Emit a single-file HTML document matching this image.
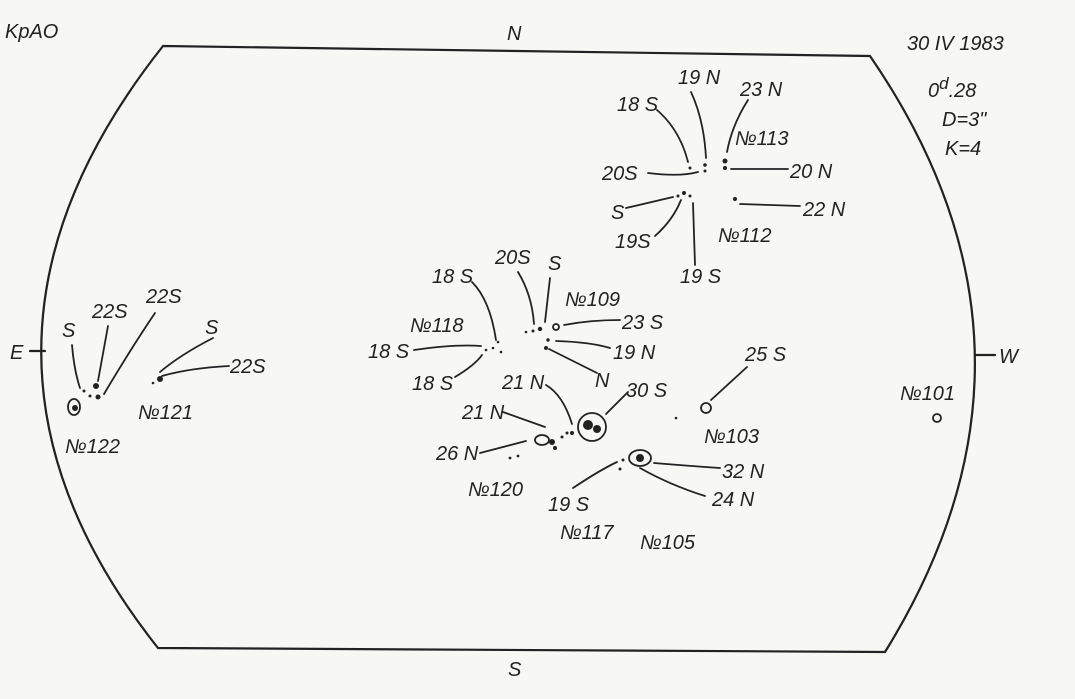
<!DOCTYPE html>
<html><head><meta charset="utf-8"><style>
html,body{margin:0;padding:0;background:#f7f7f4;}
svg{display:block}
text{font-family:"Liberation Sans",sans-serif;font-style:italic;font-size:20px;fill:#222;}
</style></head><body>
<svg width="1075" height="699" viewBox="0 0 1075 699" xmlns="http://www.w3.org/2000/svg">
<rect width="1075" height="699" fill="#f7f7f4"/>
<g fill="none" stroke="#222" stroke-width="2.2" stroke-linecap="round">
<path d="M163,46 L870,56 Q1072,350 885,652 L158,648 Q-78,350 163,46 Z"/>
<path d="M30,351 L45,351"/>
<path d="M975,355 L995,355"/>
</g>
<g fill="none" stroke="#222" stroke-width="1.8" stroke-linecap="round">
<path d="M657,110 Q680,130 688,162"/>
<path d="M691,92 Q704,120 706,158"/>
<path d="M748,100 Q732,125 727,152"/>
<path d="M648,173 Q680,177 698,172"/>
<path d="M731,169 L788,169"/>
<path d="M626,208 L673,197"/>
<path d="M740,204 L800,206"/>
<path d="M655,236 Q673,220 681,200"/>
<path d="M695,265 L693,203"/>
<path d="M472,282 Q490,300 496,340"/>
<path d="M518,272 Q532,295 534,324"/>
<path d="M550,278 L545,322"/>
<path d="M564,325 Q590,320 620,320"/>
<path d="M414,350 Q455,344 481,346"/>
<path d="M455,377 Q475,365 482,355"/>
<path d="M556,341 Q590,342 610,348"/>
<path d="M549,349 Q575,362 597,373"/>
<path d="M546,385 Q563,395 572,424"/>
<path d="M503,412 L545,427"/>
<path d="M480,453 L526,441"/>
<path d="M628,392 L606,414"/>
<path d="M747,367 L711,400"/>
<path d="M654,463 Q690,466 720,468"/>
<path d="M640,468 Q670,485 705,496"/>
<path d="M573,488 Q600,470 617,462"/>
<path d="M72,345 Q74,370 80,388"/>
<path d="M108,326 L98,381"/>
<path d="M155,313 Q130,350 104,394"/>
<path d="M213,338 Q180,355 160,372"/>
<path d="M229,366 Q190,368 162,376"/>
<circle cx="592" cy="427" r="14"/>
<ellipse cx="640" cy="458" rx="11" ry="8"/>
<circle cx="706" cy="408" r="5"/>
<circle cx="937" cy="418" r="4"/>
<ellipse cx="74" cy="407" rx="6" ry="8"/>
<ellipse cx="542" cy="440" rx="7" ry="5"/>
<circle cx="556" cy="327" r="3"/>
</g>
<g fill="#222">
<circle cx="690" cy="168" r="1.5"/><circle cx="705" cy="165" r="1.8"/><circle cx="705" cy="171" r="1.5"/>
<circle cx="725" cy="161" r="2.5"/><circle cx="725" cy="168" r="2"/>
<circle cx="678" cy="196" r="1.5"/><circle cx="684" cy="193" r="2"/><circle cx="690" cy="196" r="1.5"/>
<circle cx="735" cy="199" r="2"/>
<circle cx="526" cy="332" r="1.3"/><circle cx="533" cy="331" r="1.5"/><circle cx="540" cy="329" r="2.2"/>
<circle cx="548" cy="340" r="1.7"/><circle cx="546" cy="348" r="2"/>
<circle cx="486" cy="350" r="1.3"/><circle cx="493" cy="348" r="1.3"/><circle cx="498" cy="342" r="1.3"/><circle cx="501" cy="352" r="1.3"/>
<circle cx="588" cy="425" r="5"/><circle cx="597" cy="429" r="4"/>
<circle cx="567" cy="433" r="1.5"/><circle cx="562" cy="437" r="1.5"/><circle cx="572" cy="433" r="2"/>
<circle cx="552" cy="442" r="3"/><circle cx="555" cy="448" r="2"/>
<circle cx="510" cy="458" r="1.4"/><circle cx="518" cy="456" r="1.4"/>
<circle cx="640" cy="458" r="4"/><circle cx="623" cy="460" r="1.5"/><circle cx="620" cy="469" r="1.5"/>
<circle cx="676" cy="418" r="1.3"/>
<circle cx="96" cy="386" r="3"/><circle cx="98" cy="397" r="2.5"/><circle cx="84" cy="391" r="1.5"/><circle cx="90" cy="396" r="1.5"/>
<circle cx="75" cy="408" r="3"/>
<circle cx="160" cy="379" r="3"/><circle cx="153" cy="383" r="1.3"/>
</g>
<text x="5" y="38" font-size="18">KpAO</text>
<text x="507" y="40">N</text>
<text x="907" y="50">30 IV 1983</text>
<text x="928" y="97">0<tspan dy="-8" font-size="17">d</tspan><tspan dy="8">.28</tspan></text>
<text x="942" y="126">D=3"</text>
<text x="945" y="155">K=4</text>
<text x="10" y="359">E</text>
<text x="999" y="363">W</text>
<text x="508" y="676">S</text>
<text x="617" y="111">18 S</text>
<text x="678" y="84">19 N</text>
<text x="740" y="96">23 N</text>
<text x="735" y="145">№113</text>
<text x="602" y="180">20S</text>
<text x="790" y="178">20 N</text>
<text x="611" y="219">S</text>
<text x="803" y="216">22 N</text>
<text x="615" y="248">19S</text>
<text x="718" y="242">№112</text>
<text x="680" y="283">19 S</text>
<text x="432" y="283">18 S</text>
<text x="495" y="264">20S</text>
<text x="548" y="270">S</text>
<text x="565" y="306">№109</text>
<text x="410" y="332">№118</text>
<text x="622" y="329">23 S</text>
<text x="368" y="358">18 S</text>
<text x="613" y="359">19 N</text>
<text x="412" y="390">18 S</text>
<text x="595" y="387">N</text>
<text x="502" y="389">21 N</text>
<text x="626" y="397">30 S</text>
<text x="462" y="419">21 N</text>
<text x="436" y="460">26 N</text>
<text x="468" y="496">№120</text>
<text x="745" y="361">25 S</text>
<text x="704" y="443">№103</text>
<text x="722" y="478">32 N</text>
<text x="712" y="506">24 N</text>
<text x="548" y="511">19 S</text>
<text x="560" y="539">№117</text>
<text x="640" y="549">№105</text>
<text x="900" y="400">№101</text>
<text x="62" y="337">S</text>
<text x="92" y="318">22S</text>
<text x="146" y="303">22S</text>
<text x="205" y="334">S</text>
<text x="230" y="373">22S</text>
<text x="138" y="419">№121</text>
<text x="65" y="453">№122</text>
</svg>
</body></html>
